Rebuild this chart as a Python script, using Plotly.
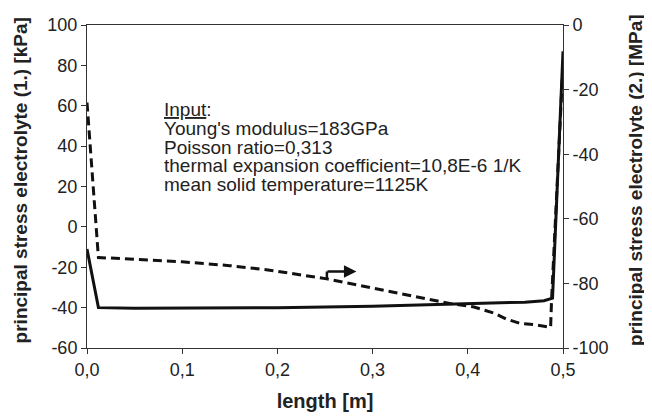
import plotly.graph_objects as go

# ---- data ----
length_solid = [0, 0.012, 0.05, 0.1, 0.2, 0.3, 0.385, 0.43, 0.46, 0.48, 0.489, 0.5]
stress1_kpa = [-11, -40, -40.3, -40.3, -40, -39.3, -38.3, -37.8, -37.3, -36.6, -35.3, 87]

length_dash = [0, 0.012, 0.05, 0.1, 0.15, 0.192, 0.252, 0.3, 0.332, 0.381, 0.4065,
               0.4275, 0.44, 0.455, 0.47, 0.487, 0.488, 0.5]
stress2_mpa = [-24, -72, -72.5, -73.3, -74.5, -75.9, -78.6, -81.4, -83.2, -86.2, -87.3,
               -89.2, -91, -92.4, -92.8, -93.6, -85, -12]

x_ticks = [0, 0.1, 0.2, 0.3, 0.4, 0.5]
x_ticktext = ["0,0", "0,1", "0,2", "0,3", "0,4", "0,5"]
y1_ticks = [100, 80, 60, 40, 20, 0, -20, -40, -60]
y1_ticktext = ["100", "80", "60", "40", "20", "0", "-20", "-40", "-60"]
y2_ticks = [0, -20, -40, -60, -80, -100]
y2_ticktext = ["0", "-20", "-40", "-60", "-80", "-100"]

input_lines = ["<u>Input</u>:", "Young's modulus=183GPa", "Poisson ratio=0,313",
               "thermal expansion coefficient=10,8E-6 1/K", "mean solid temperature=1125K"]
input_y = [58, 48.75, 39.5, 30.25, 21]

y1_title = "<b>principal stress electrolyte (1.) [kPa]</b>"
y2_title = "<b>principal stress electrolyte (2.) [MPa]</b>"
x_title = "<b>length [m]</b>"

FONT = "Liberation Sans, Arial, sans-serif"
INK = "#111111"
TXT = "#222222"

fig = go.Figure()
fig.add_trace(go.Scatter(x=length_solid, y=stress1_kpa, mode="lines",
                         line=dict(color=INK, width=3), yaxis="y"))
fig.add_trace(go.Scatter(x=length_dash, y=stress2_mpa, mode="lines",
                         line=dict(color=INK, width=3, dash="9px,5px"), yaxis="y2"))

for t, yy in zip(input_lines, input_y):
    fig.add_annotation(x=0.079, y=yy, xref="x", yref="y", text=t, showarrow=False,
                       xanchor="left", yanchor="middle",
                       font=dict(family=FONT, size=19, color=TXT))

# arrow pointing to the right axis
fig.add_shape(type="line", xref="x", yref="y2", x0=0.252, x1=0.252, y0=-78.5, y1=-76.3,
              line=dict(color=INK, width=2.5))
fig.add_annotation(x=0.283, y=-76.3, ax=0.251, ay=-76.3, xref="x", yref="y2",
                   axref="x", ayref="y2", text="", showarrow=True,
                   arrowhead=2, arrowsize=1, arrowwidth=2.5, arrowcolor=INK)

title_font = dict(family=FONT, size=19, color=TXT)

# vertical axis titles (placed as rotated text beside each axis)
fig.add_annotation(x=-0.14, y=0.52, xref="paper", yref="paper", text=y1_title,
                   textangle=-90, showarrow=False, xanchor="center", yanchor="middle",
                   font=title_font)
fig.add_annotation(x=1.151, y=0.52, xref="paper", yref="paper", text=y2_title,
                   textangle=-90, showarrow=False, xanchor="center", yanchor="middle",
                   font=title_font)

axis_common = dict(showgrid=False, zeroline=False, showline=True, linecolor="#333333",
                   linewidth=1, ticks="outside", ticklen=5, tickcolor="#333333",
                   automargin=False,
                   tickfont=dict(family=FONT, size=18, color=TXT))

# page body has an 8px margin, so the figure is sized to fit the 652x420 window
fig.update_layout(
    width=644, height=412,
    margin=dict(l=79, r=89, t=17, b=72),
    paper_bgcolor="white", plot_bgcolor="white",
    showlegend=False,
    xaxis=dict(range=[0, 0.5], tickvals=x_ticks, ticktext=x_ticktext, mirror=True,
               title=dict(text=x_title, font=dict(family=FONT, size=20, color=TXT)),
               **axis_common),
    yaxis=dict(range=[-60, 100], tickvals=y1_ticks, ticktext=y1_ticktext,
               **axis_common),
    yaxis2=dict(range=[-100, 0], tickvals=y2_ticks, ticktext=y2_ticktext,
                overlaying="y", side="right",
                **axis_common),
)

fig.write_html("out.html")
